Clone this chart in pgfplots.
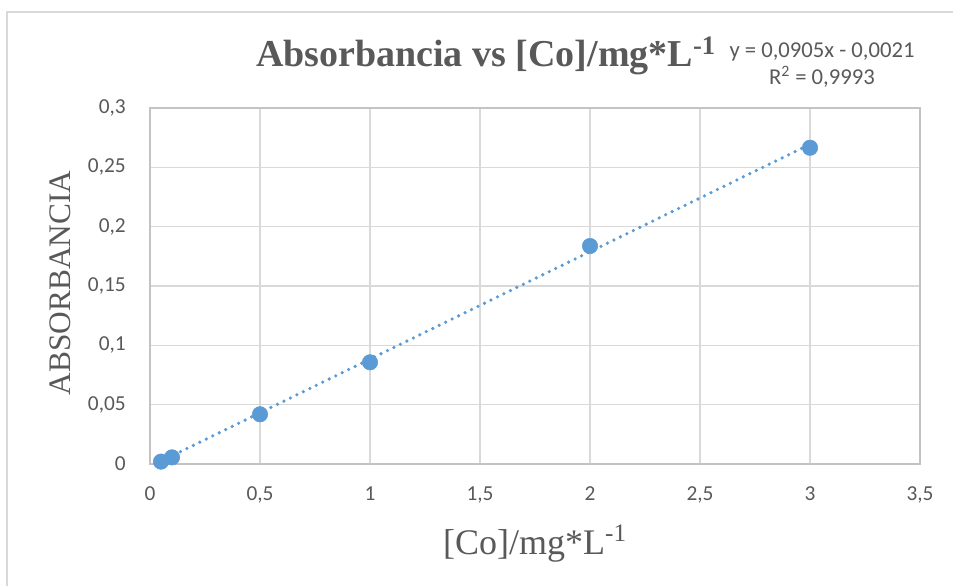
\documentclass[border=0pt]{standalone}
\usepackage{pgfplots}
\pgfplotsset{compat=1.18}
\usepackage{fontspec}
\setmainfont{Liberation Serif}
\newfontfamily\calibri{Carlito}

\definecolor{gridgray}{HTML}{D9D9D9}
\definecolor{txtgray}{HTML}{595959}
\definecolor{xlblue}{HTML}{5B9BD5}

\begin{document}
\begin{tikzpicture}[x=0.75pt,y=0.75pt]
\useasboundingbox (0,0) rectangle (953,586);
% chart area border (only left and top visible in the crop)
\draw[gridgray,line width=1.1pt] (7,0) -- (7,574) -- (953,574);

\begin{axis}[
    at={(112.5pt,91.5pt)}, anchor=origin,
    scale only axis,
    width=577.5pt, height=267pt,
    xmin=0, xmax=3.5, ymin=0, ymax=0.3,
    xtick={0,0.5,1,1.5,2,2.5,3,3.5},
    ytick={0,0.05,0.1,0.15,0.2,0.25,0.3},
    grid=major,
    major grid style={gridgray,line width=1.1pt},
    axis line style={draw=gridgray!90!black,line width=1.1pt},
    major tick length=0pt,
    tick label style={font=\calibri\fontsize{16}{18}\selectfont,text=txtgray,inner sep=0pt},
    xticklabel shift=17pt,
    yticklabel shift=18pt,
    /pgf/number format/.cd, use comma, fixed, precision=2, assume math mode=true,
    /pgfplots/.cd,
    clip=false,
]
    % linear trendline: y = 0,0905x - 0,0021, from first to last point
    \addplot[xlblue, line width=2.7pt, line cap=round,
             dash pattern=on 0pt off 5.4pt, no marks]
        coordinates {(0.05,0.0024) (3,0.2694)};
    \addplot[only marks, mark=*, mark size=5.8pt,
             mark options={fill=xlblue,draw=xlblue}]
        coordinates {
        (0.05,0.002) (0.1,0.0056) (0.5,0.0419)
        (1,0.0857) (2,0.1837) (3,0.2665)
    };
\end{axis}

% title
\node[anchor=base,text=txtgray,inner sep=0pt,font=\bfseries\fontsize{28.5}{32}\selectfont]
    at (486,519) {Absorbancia vs [Co]/mg*L\textsuperscript{-1}};
% trendline label
\node[anchor=base,text=txtgray,inner sep=0pt,font=\calibri\fontsize{17}{20}\selectfont]
    at (822,528) {y = 0,0905x - 0,0021};
\node[anchor=base,text=txtgray,inner sep=0pt,font=\calibri\fontsize{17}{20}\selectfont]
    at (822,501) {R\textsuperscript{2} = 0,9993};
% axis titles
\node[anchor=base,text=txtgray,inner sep=0pt,font=\fontsize{27}{30}\selectfont]
    at (535,32) {[Co]/mg*L\textsuperscript{-1}};
\node[anchor=base,rotate=90,text=txtgray,inner sep=0pt,font=\fontsize{23.5}{26}\selectfont]
    at (70,303) {ABSORBANCIA};
\end{tikzpicture}
\end{document}
